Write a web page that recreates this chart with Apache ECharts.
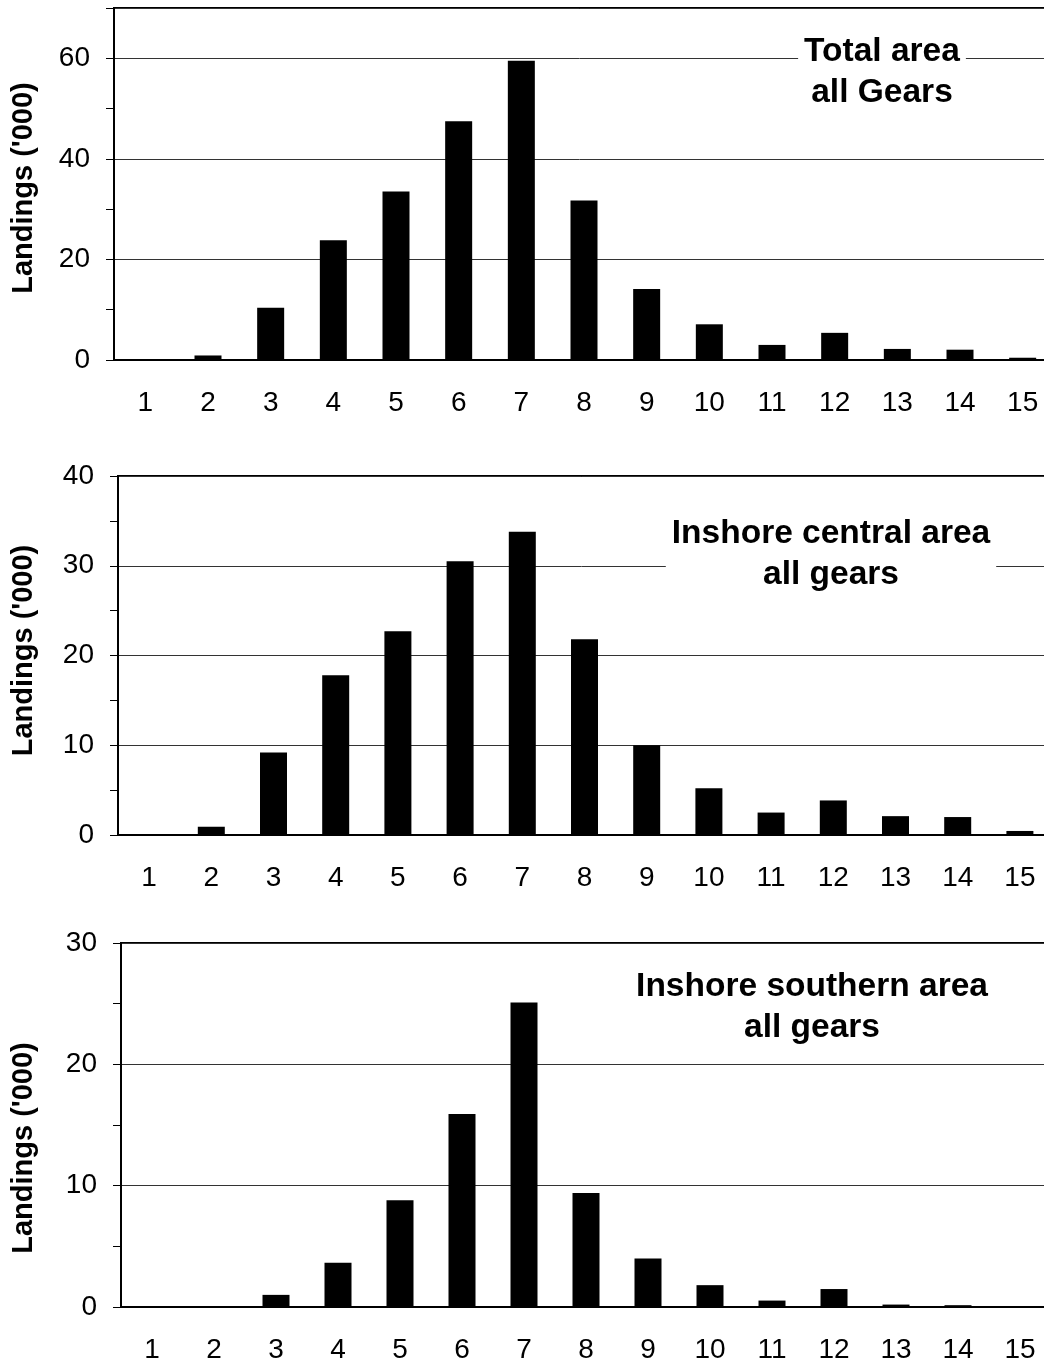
<!DOCTYPE html>
<html>
<head>
<meta charset="utf-8">
<title>Landings by age</title>
<script src="https://cdn.jsdelivr.net/npm/echarts@6/dist/echarts.min.js"></script>
<style>
    html, body { margin: 0; padding: 0; background: #fff; }
    #main { width: 1044px; height: 1366px; }
</style>
</head>
<body>
<div id="main"></div>
<script>
// age classes on the x axis
var categories = ['1', '2', '3', '4', '5', '6', '7', '8', '9', '10', '11', '12', '13', '14', '15'];

// landings ('000) per panel
var totalArea = [0, 0.9, 10.4, 23.8, 33.5, 47.5, 59.5, 31.7, 14.1, 7.1, 3.0, 5.4, 2.2, 2.05, 0.45];
var centralArea = [0, 0.92, 9.2, 17.8, 22.7, 30.5, 33.8, 21.8, 10.0, 5.2, 2.5, 3.85, 2.1, 2.0, 0.45];
var southernArea = [0, 0, 1.0, 3.65, 8.8, 15.9, 25.1, 9.4, 4.0, 1.8, 0.53, 1.48, 0.2, 0.15, 0];

var panelTitles = ['Total area\nall Gears', 'Inshore central area\nall gears', 'Inshore southern area\nall gears'];
var yMax = [70, 40, 30];
var tickStep = [10, 5, 5];
var labelStep = [20, 10, 10];

var FONT = '"Liberation Sans", Arial, Helvetica, sans-serif';

function DrawLandings() {
    var chart = echarts.init(document.getElementById('main'));
    var seriesData = [totalArea, centralArea, southernArea];

    // plot boxes, right edge runs a little past the picture
    var boxes = [
        { left: 114, top: 8, width: 940, height: 352 },
        { left: 118, top: 476, width: 933, height: 359 },
        { left: 121, top: 943, width: 930, height: 364 }
    ];
    var titlePos = [[876, 29], [825, 511], [806, 964]];
    var namePad = [[0, 8, 0, 0], [0, 0, 0, 10], [0, 46, 0, 0]];
    var nameGap = [76, 80, 83];

    var grid = [], xAxis = [], yAxis = [], series = [], title = [];

    for (var i = 0; i < 3; i++) {
        grid.push({
            left: boxes[i].left,
            top: boxes[i].top,
            width: boxes[i].width,
            height: boxes[i].height,
            show: true,
            borderColor: '#000',
            borderWidth: 2,
            containLabel: false,
            outerBoundsMode: 'none'
        });

        xAxis.push({
            type: 'category',
            gridIndex: i,
            data: categories,
            axisLine: { lineStyle: { color: '#000', width: 2 } },
            axisTick: { length: 9, lineStyle: { color: '#000', width: 1 } },
            axisLabel: { interval: 0, margin: 29, fontSize: 28, color: '#000', fontFamily: FONT },
            splitLine: { show: false }
        });

        // visible axis: ticks, labels and name
        (function (step) {
            yAxis.push({
                type: 'value',
                gridIndex: i,
                position: 'left',
                min: 0,
                max: yMax[i],
                interval: tickStep[i],
                name: "Landings ('000)",
                nameLocation: 'middle',
                nameGap: nameGap[i],
                nameTextStyle: {
                    fontSize: 29,
                    fontWeight: 'bold',
                    color: '#000',
                    fontFamily: FONT,
                    padding: namePad[i]
                },
                axisLine: { show: true, lineStyle: { color: '#000', width: 2 } },
                axisTick: { show: true, length: 8, lineStyle: { color: '#000', width: 1 } },
                axisLabel: {
                    margin: 24,
                    fontSize: 28,
                    color: '#000',
                    fontFamily: FONT,
                    formatter: function (v) {
                        return v % step === 0 ? String(v) : '';
                    }
                },
                splitLine: { show: false }
            });
        })(labelStep[i]);

        // hidden axis that only draws the gridlines
        yAxis.push({
            type: 'value',
            gridIndex: i,
            min: 0,
            max: yMax[i],
            interval: labelStep[i],
            axisLine: { show: false },
            axisTick: { show: false },
            axisLabel: { show: false },
            splitLine: { show: true, lineStyle: { color: '#333', width: 1 } }
        });

        series.push({
            type: 'bar',
            xAxisIndex: i,
            yAxisIndex: i * 2,
            data: seriesData[i],
            barWidth: 27,
            silent: true,
            itemStyle: { color: '#000' }
        });

        title.push({
            text: panelTitles[i],
            left: titlePos[i][0],
            top: titlePos[i][1],
            textAlign: 'center',
            backgroundColor: '#fff',
            padding: [2, 6],
            textStyle: {
                fontSize: 33.5,
                fontWeight: 'bold',
                lineHeight: 41,
                color: '#000',
                fontFamily: FONT
            }
        });
    }

    var option = {
        animation: false,
        backgroundColor: '#fff',
        title: title,
        grid: grid,
        xAxis: xAxis,
        yAxis: yAxis,
        series: series
    };
    chart.setOption(option);
}

DrawLandings();
</script>
</body>
</html>
